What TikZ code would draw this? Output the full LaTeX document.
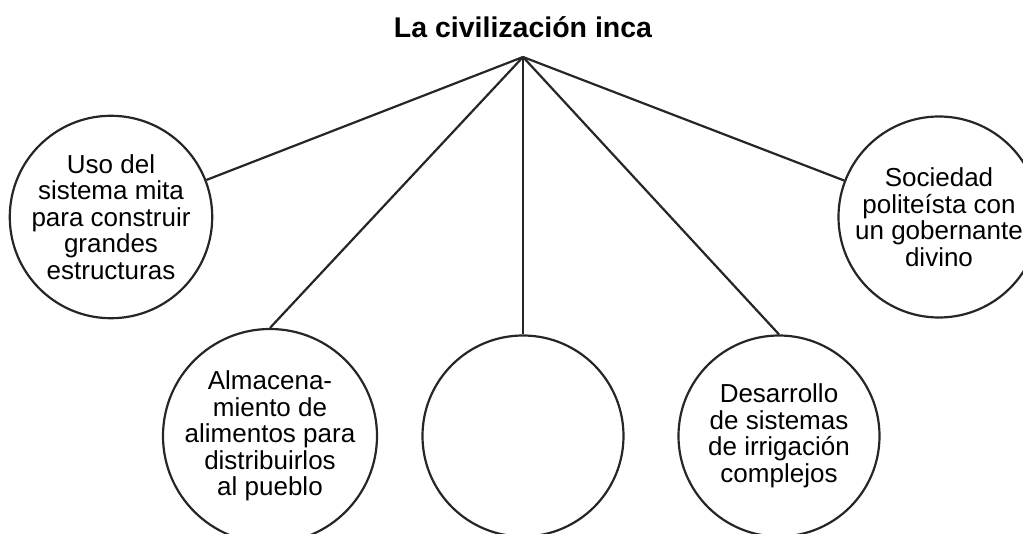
\documentclass[tikz,border=0pt]{standalone}
\usepackage{fontspec}
\setmainfont{Liberation Sans}
\usetikzlibrary{positioning}

\begin{document}
\begin{tikzpicture}[
            x=1pt, y=-1pt,
            idea/.style={circle, draw=black!85, line width=2.2pt, minimum size=201pt, inner sep=0pt, align=center, font=\fontsize{26}{26.5}\selectfont},
            title/.style={font=\fontsize{28.5}{30}\selectfont\bfseries},
            link/.style={draw=black!85, line width=2.2pt}
            ]
            \useasboundingbox (0,0) rectangle (1023,534);

            % Title and apex
            \node[title] (inca) at (523,27) {La civilización inca};
            \coordinate (apex) at (523,57);

            % Upper circles
            \node[idea] (mita) at (111,217) {Uso del\\sistema mita\\para construir\\grandes\\estructuras};
            \node[idea] (sociedad) at (939,217) {Sociedad\\politeísta con\\un gobernante\\divino};

            % Lower circles
            \node[idea] (almacen) at (270,436) {Almacena-\\miento de\\alimentos para\\distribuirlos\\al pueblo};
            \node[idea] (vacio) at (523,436) {};
            \node[idea] (riego) at (779,436) {Desarrollo\\de sistemas\\de irrigación\\complejos};

            % Lines
            \draw[link] (apex) -- (mita);
            \draw[link] (apex) -- (sociedad);
            \draw[link] (apex) -- (almacen.north);
            \draw[link] (apex) -- (vacio.north);
            \draw[link] (apex) -- (riego.north);

        \end{tikzpicture}
\end{document}
